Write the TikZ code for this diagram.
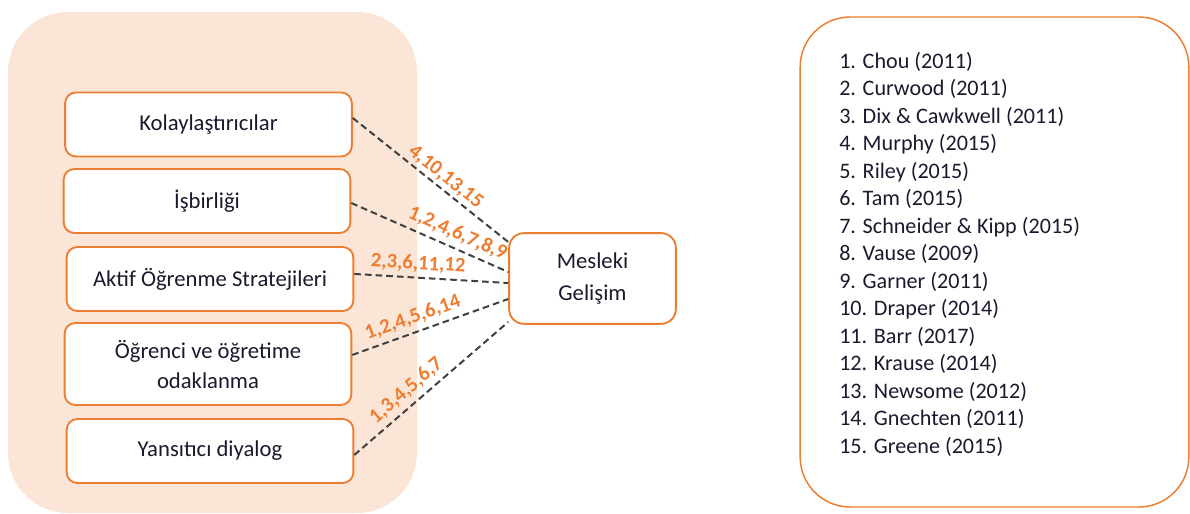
\documentclass[tikz,border=0pt]{standalone}
\usepackage{fontspec}
\setmainfont{Carlito}
\definecolor{orng}{HTML}{ED7D31}
\definecolor{peach}{HTML}{FBE5D6}
\definecolor{dgray}{HTML}{404040}
\definecolor{ink}{HTML}{1A1A2E}
\tikzset{
  factor/.style={draw=orng, line width=1.4pt, fill=white, rounded corners=8pt,
    minimum width=215pt, minimum height=48pt, align=center, text=ink,
    font=\fontsize{17}{22.5}\selectfont},
  goalbox/.style={draw=orng, line width=1.4pt, fill=white, rounded corners=11pt,
    minimum width=125pt, minimum height=68pt, align=center, text=ink,
    font=\fontsize{17}{24}\selectfont},
  link/.style={dgray, line width=1.5pt, dash pattern=on 5pt off 3pt},
  numlbl/.style={text=orng, font=\fontsize{15.5}{18}\selectfont\bfseries, sloped, above},
  refitem/.style={anchor=base west, inner sep=0pt, text=ink, font=\fontsize{16.6}{20}\selectfont}
}
\begin{document}
\begin{tikzpicture}[x=0.75pt, y=-0.75pt]
\useasboundingbox (0,0) rectangle (1190,514);
\fill [peach, rounded corners=45pt] (8,12) rectangle (417,513);

\node [factor] (kol) at (208.5,124.5) {Kolaylaştırıcılar};
\node [factor] (isb) at (207,201) {İşbirliği};
\node [factor] (akt) at (210,279) {Aktif Öğrenme Stratejileri};
\node [factor, minimum height=61.5pt] (ogr) at (208,364) {Öğrenci ve öğretime\\odaklanma};
\node [factor] (yan) at (210,451) {Yansıtıcı diyalog};

\node [goalbox] (mes) at (592.5,278.5) {Mesleki\\Gelişim};

\draw [link] ([yshift=4.9pt]kol.east) -- ([yshift=27.4pt]mes.west) node [numlbl, pos=0.55, inner sep=2pt] {4,10,13,15};
\draw [link] ([yshift=-1.5pt]isb.east) -- ([yshift=4.9pt]mes.west) node [numlbl, pos=0.64, inner sep=4pt] {1,2,4,6,7,8,9};
\draw [link] ([yshift=3.8pt]akt.east) -- ([yshift=-3.4pt]mes.west) node [numlbl, pos=0.41] {2,3,6,11,12};
\draw [link] ([yshift=6.8pt]ogr.east) -- ([yshift=-15.4pt]mes.west) node [numlbl, pos=0.42, inner sep=4pt] {1,2,4,5,6,14};
\draw [link] ([yshift=-3pt]yan.east) -- ([yshift=-32.6pt]mes.west) node [numlbl, pos=0.40, inner sep=4pt] {1,3,4,5,6,7};

\node [draw=orng, line width=1.1pt, rounded corners=37.5pt, minimum width=291.5pt, minimum height=367.5pt] (refs) at (994.5,262) {};
\node [refitem] (r1) at (839,68) {1. Chou (2011)};
\node [refitem] (r2) at (839,95.5) {2. Curwood (2011)};
\node [refitem] (r3) at (839,123) {3. Dix \& Cawkwell (2011)};
\node [refitem] (r4) at (839,150.5) {4. Murphy (2015)};
\node [refitem] (r5) at (839,178) {5. Riley (2015)};
\node [refitem] (r6) at (839,205.5) {6. Tam (2015)};
\node [refitem] (r7) at (839,233) {7. Schneider \& Kipp (2015)};
\node [refitem] (r8) at (839,260.5) {8. Vause (2009)};
\node [refitem] (r9) at (839,288) {9. Garner (2011)};
\node [refitem] (r10) at (839,315.5) {10. Draper (2014)};
\node [refitem] (r11) at (839,343) {11. Barr (2017)};
\node [refitem] (r12) at (839,370.5) {12. Krause (2014)};
\node [refitem] (r13) at (839,398) {13. Newsome (2012)};
\node [refitem] (r14) at (839,425.5) {14. Gnechten (2011)};
\node [refitem] (r15) at (839,453) {15. Greene (2015)};
\end{tikzpicture}
\end{document}
